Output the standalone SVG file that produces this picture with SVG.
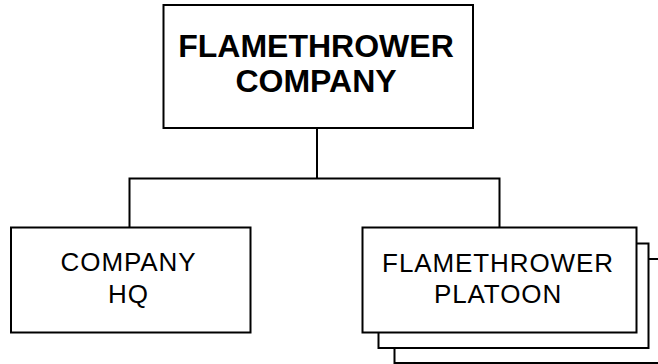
<svg xmlns="http://www.w3.org/2000/svg" width="658" height="364" viewBox="0 0 658 364">
<style>
.box{fill:#fff;stroke:#000;stroke-width:2}
.conn{fill:none;stroke:#000;stroke-width:2}
.t{font-family:"Liberation Sans",Arial,sans-serif;font-size:26px;letter-spacing:0.9px;text-anchor:middle;fill:#000}
.tb{font-family:"Liberation Sans",Arial,sans-serif;font-size:32px;font-weight:bold;text-anchor:middle;fill:#000}
</style>
<rect width="658" height="364" fill="#fff"/>
<g id="connectors">
<line class="conn" x1="317" y1="128" x2="317" y2="178.5"/>
<polyline class="conn" points="129.5,227.5 129.5,178.5 499.5,178.5 499.5,227.5"/>
</g>
<g id="company">
<rect class="box" x="163.5" y="5" width="309.5" height="123"/>
<text class="tb" x="316" y="57">FLAMETHROWER</text>
<text class="tb" x="316" y="92">COMPANY</text>
</g>
<g id="hq">
<rect class="box" x="11" y="227.5" width="239.5" height="105"/>
<text class="t" x="128.5" y="271">COMPANY</text>
<text class="t" x="128.5" y="302.5">HQ</text>
</g>
<g id="platoon">
<rect class="box" x="394.5" y="259" width="280" height="104"/>
<rect class="box" x="378.5" y="243.5" width="270" height="104.5"/>
<rect class="box" x="362.5" y="227.5" width="274" height="105"/>
<text class="t" x="498" y="271.5">FLAMETHROWER</text>
<text class="t" x="498" y="303">PLATOON</text>
</g>
</svg>
